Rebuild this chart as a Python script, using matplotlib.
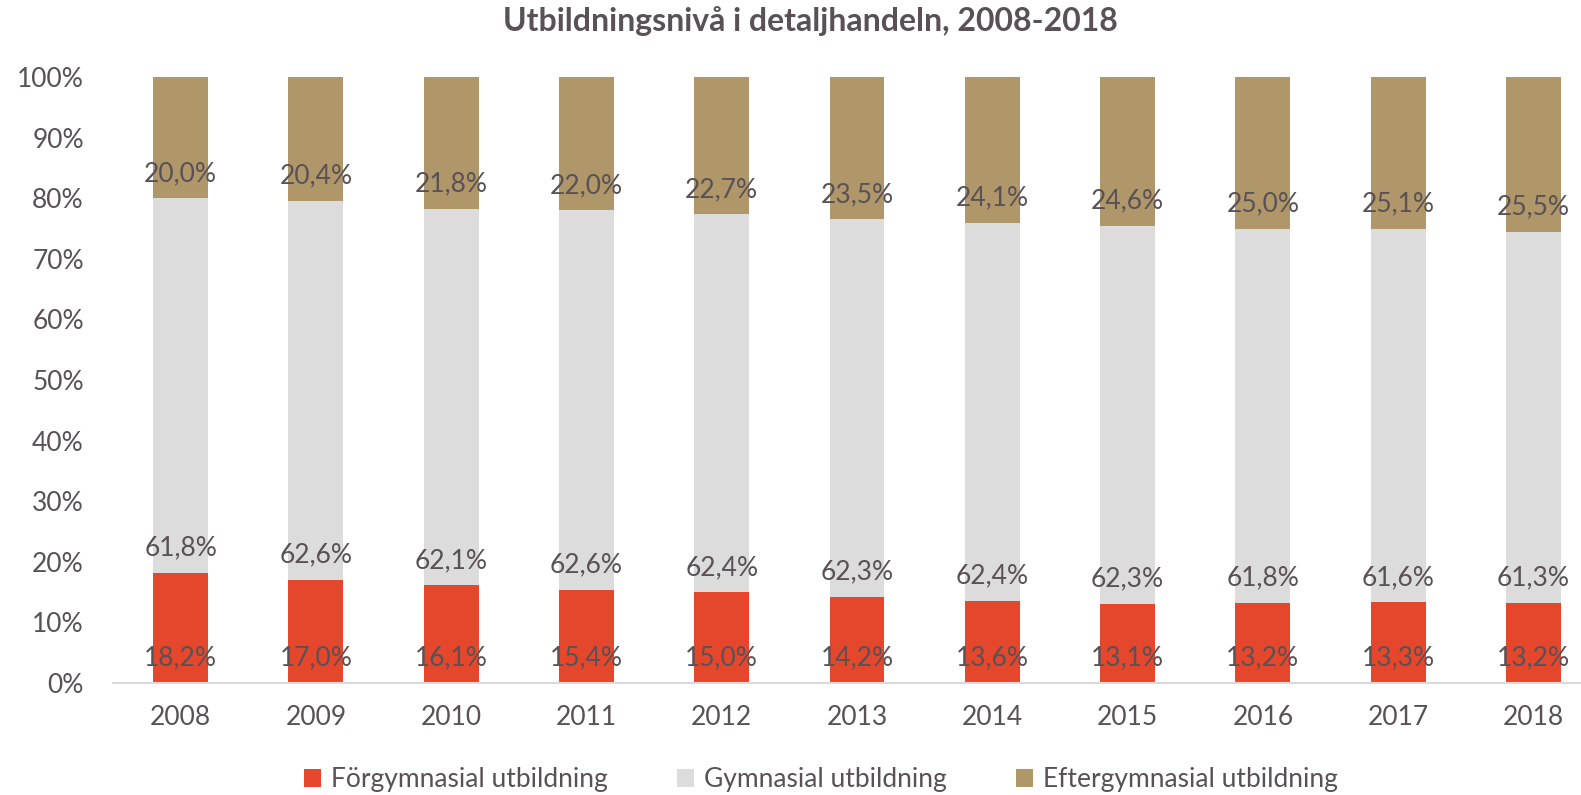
import matplotlib
matplotlib.use("Agg")
import matplotlib.pyplot as plt
import numpy as np
from matplotlib.patches import Patch

years = ["2008", "2009", "2010", "2011", "2012", "2013", "2014", "2015", "2016", "2017", "2018"]
forgymnasial = [18.2, 17.0, 16.1, 15.4, 15.0, 14.2, 13.6, 13.1, 13.2, 13.3, 13.2]
gymnasial = [61.8, 62.6, 62.1, 62.6, 62.4, 62.3, 62.4, 62.3, 61.8, 61.6, 61.3]
eftergymnasial = [20.0, 20.4, 21.8, 22.0, 22.7, 23.5, 24.1, 24.6, 25.0, 25.1, 25.5]
series_names = ["Förgymnasial utbildning", "Gymnasial utbildning", "Eftergymnasial utbildning"]
title = "Utbildningsnivå i detaljhandeln, 2008-2018"

colors = ["#e4472b", "#dcdcdc", "#b0976a"]
text_color = "#595155"
plt.rcParams["font.family"] = ["Lato", "DejaVu Sans"]
FS = 19

W, H = 1581, 795
fig = plt.figure(figsize=(W / 100, H / 100), dpi=100)
ax = fig.add_axes([113 / W, (H - 683) / H, (1601 - 113) / W, (683 - 77) / H])

data = np.array([forgymnasial, gymnasial, eftergymnasial])
tot = data.sum(axis=0)
norm = data / tot
x = np.arange(len(years))
bottom = np.zeros(len(years))
for i in range(3):
    ax.bar(x, norm[i], bottom=bottom, width=0.406, color=colors[i], zorder=2)
    for j in range(len(years)):
        ax.annotate(f"{data[i][j]:.1f}%".replace(".", ","), (x[j], bottom[j]),
                    xytext=(0, 12.5), textcoords="offset points",
                    ha="center", va="baseline", fontsize=FS, color=text_color)
    bottom += norm[i]

ax.set_xlim(-0.5, len(years) - 0.5)
ax.set_ylim(0, 1)
ax.set_yticks(np.arange(0, 1.01, 0.1))
ax.set_yticklabels([f"{int(round(v * 100))}%" for v in np.arange(0, 1.01, 0.1)])
ax.set_xticks(x)
ax.set_xticklabels(years)
ax.tick_params(axis="y", length=0, pad=21, labelsize=FS, labelcolor=text_color)
ax.tick_params(axis="x", length=0, pad=16, labelsize=FS, labelcolor=text_color)
for s in ["top", "right", "left"]:
    ax.spines[s].set_visible(False)
ax.spines["bottom"].set_color("#d9d9d9")
ax.spines["bottom"].set_linewidth(1.5)
ax.spines["bottom"].set_zorder(3)

fig.text(810 / W, 1 - 21 / H, title, ha="center", va="center", fontsize=23,
         fontweight="bold", color=text_color)

handles = [Patch(facecolor=c, edgecolor="none") for c in colors]
leg = fig.legend(handles, series_names, loc="center", bbox_to_anchor=(821 / W, 1 - 780 / H),
                 ncol=3, frameon=False, fontsize=FS, handlelength=0.65, handleheight=0.65,
                 handletextpad=0.4, columnspacing=2.6)
for t in leg.get_texts():
    t.set_color(text_color)

fig.savefig("out.png", dpi=100)
